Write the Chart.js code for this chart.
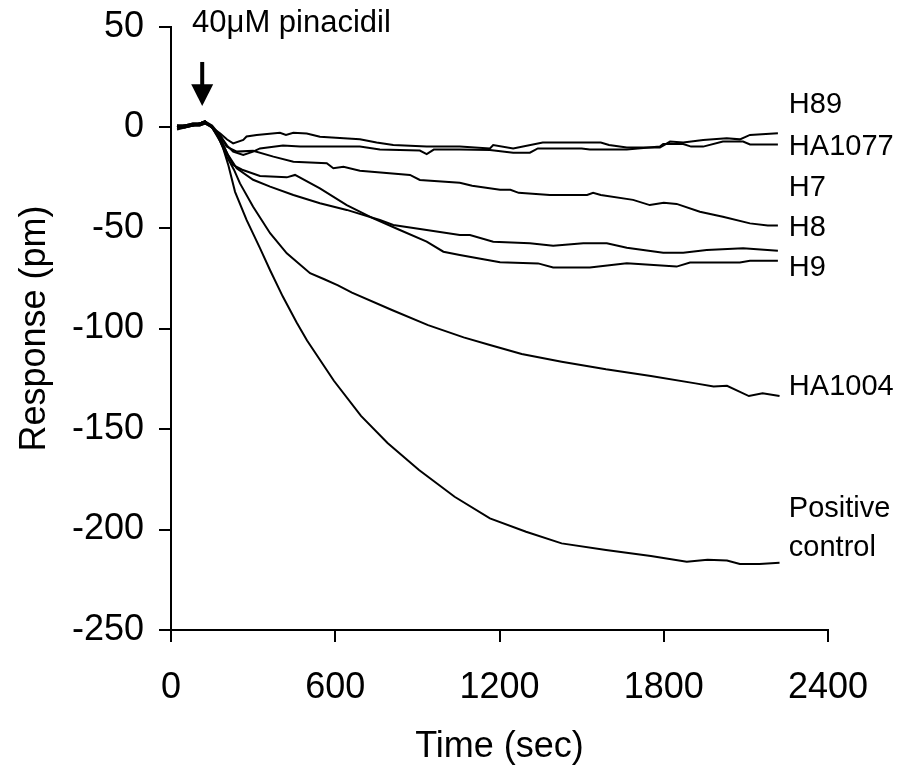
<!DOCTYPE html>
<html lang="en">
<head>
    <meta charset="UTF-8" />
    <title>Pinacidil response</title>
    <script src="https://cdn.jsdelivr.net/npm/chart.js"></script>
    <style>
        body { margin: 0; background: #fff; }
        canvas { display: block; }
    </style>
</head>
<body>
    <canvas id="chart" width="899" height="769"></canvas>

    <script>
        // Datos: tiempo (s) y respuesta (pm) por inhibidor
        const h89T = [22, 50, 80, 105, 124, 150, 180, 205, 227, 264, 276, 313, 398, 420, 447, 496, 544, 690, 751, 812, 934, 1055, 1165, 1177, 1250, 1358, 1570, 1600, 1665, 1786, 1823, 1871, 1944, 2030, 2078, 2115, 2217];
        const h89V = [0, 1, 1, 2, 3, 0, -3, -6, -7.9, -6.2, -4.5, -3.7, -2.6, -3.7, -2.6, -3, -4.6, -5.9, -7.5, -8.7, -9.5, -9.5, -10.4, -8.7, -10.4, -7.5, -7.5, -8.7, -10, -10, -7, -7.5, -6.2, -5.4, -5.9, -3.7, -2.9];

        const ha1077T = [22, 50, 80, 105, 124, 150, 180, 205, 227, 264, 300, 325, 409, 472, 690, 763, 909, 934, 960, 1055, 1165, 1250, 1311, 1340, 1500, 1530, 1665, 1786, 1798, 1871, 1900, 1944, 2016, 2090, 2115, 2217];
        const ha1077V = [-1, 0, 1, 1, 2, 0, -4, -9, -12, -13.7, -12, -10.4, -9, -9.5, -9.5, -10.9, -11.5, -13.2, -11, -10.9, -11.2, -12.5, -12.5, -10.4, -10.4, -11, -11, -9.5, -8.2, -8.2, -9.5, -9.5, -7, -7, -8.4, -8.4];

        const h7T = [22, 50, 80, 105, 124, 150, 180, 203, 240, 300, 374, 447, 569, 593, 630, 690, 873, 909, 1055, 1100, 1202, 1240, 1270, 1384, 1520, 1542, 1570, 1688, 1749, 1800, 1847, 1932, 2016, 2115, 2180, 2217];
        const h7V = [1, 1, 2, 2, 3, 1, -4, -9.5, -12, -11.6, -14.5, -17, -17.8, -20.3, -19.5, -21.5, -23.6, -26.1, -27.5, -29, -31, -31, -32.5, -33.6, -33.6, -32.5, -33.6, -36, -38.6, -37.5, -38, -41.9, -44.4, -47.7, -48.8, -48.8];

        const h8T = [22, 50, 80, 105, 124, 150, 180, 210, 240, 300, 362, 447, 544, 642, 763, 812, 934, 1055, 1092, 1177, 1311, 1396, 1506, 1592, 1665, 1798, 1871, 1957, 2090, 2217];
        const h8V = [0, 0, 1, 2, 3, 0, -6, -14, -20.3, -26, -29.4, -33.6, -37.7, -41, -46, -48.5, -51, -53.5, -53.5, -56.8, -57.6, -58.8, -57.6, -57.6, -59.8, -62.3, -62.3, -61, -60.1, -61.3];

        const h9T = [22, 50, 80, 105, 124, 150, 180, 205, 227, 260, 325, 423, 453, 544, 642, 739, 836, 934, 995, 1055, 1141, 1202, 1341, 1396, 1530, 1665, 1847, 1896, 2078, 2115, 2217];
        const h9V = [1, 0, 1, 1, 2, 0, -5, -13, -18.7, -21, -24.1, -24.8, -23.6, -30.3, -38.6, -45.2, -51, -56.8, -61.8, -63.4, -65.6, -67, -67.6, -69.6, -69.6, -67.6, -69.2, -67.2, -67.2, -66.3, -66.3];

        const ha1004T = [22, 50, 80, 105, 124, 150, 180, 204, 230, 252, 300, 362, 423, 508, 560, 610, 661, 807, 939, 1069, 1165, 1281, 1427, 1589, 1753, 1916, 1982, 2031, 2111, 2161, 2223];
        const ha1004V = [0, 1, 1, 2, 3, 0, -7, -14.5, -21, -27.8, -39.4, -52.6, -62.6, -72.5, -75.5, -78.5, -82.2, -90.8, -98.3, -104.4, -108.2, -112.7, -116.5, -120.3, -123.6, -127.3, -128.9, -128.5, -133.6, -132.2, -133.6];

        const posT = [22, 50, 80, 105, 124, 150, 170, 190, 210, 234, 276, 325, 362, 408, 459, 497, 595, 694, 791, 906, 1036, 1165, 1297, 1427, 1589, 1753, 1884, 1960, 2031, 2078, 2150, 2223];
        const posV = [1, 1, 2, 2, 3, 0, -4, -10, -19, -32, -46, -60, -71, -84, -97, -106, -126, -143.5, -157, -170.4, -183.7, -194.5, -201.1, -206.9, -210.2, -213.2, -216, -215, -215.4, -217.2, -217.2, -216.6];

        // Etiquetas a la derecha de cada curva
        const curveLabels = ['H89', 'HA1077', 'H7', 'H8', 'H9', 'HA1004', 'Positive', 'control'];
        const curveLabelY = [11, -9.5, -30, -50, -70, -129, -190, -209];
        const curveLabelT = 2257;

        // Momento de adición del fármaco
        const drugName = '40\u03bcM pinacidil';
        const drugT = 114;

        const FONT = '"Liberation Sans", Arial, sans-serif';

        function toXY(ts, vs) {
            return ts.map((t, i) => ({ x: t, y: vs[i] }));
        }

        const series = [
            toXY(h89T, h89V),
            toXY(ha1077T, ha1077V),
            toXY(h7T, h7V),
            toXY(h8T, h8V),
            toXY(h9T, h9V),
            toXY(ha1004T, ha1004V),
            toXY(posT, posV)
        ];

        // Plugin para el texto de las curvas y la flecha
        const notes = {
            id: 'notes',
            afterDraw(chart) {
                const { ctx, scales: { x, y } } = chart;
                ctx.save();
                ctx.fillStyle = '#000';
                ctx.textBaseline = 'middle';
                ctx.textAlign = 'left';
                ctx.font = '29px ' + FONT;
                curveLabels.forEach((txt, i) => {
                    ctx.fillText(txt, x.getPixelForValue(curveLabelT), y.getPixelForValue(curveLabelY[i]));
                });

                ctx.font = '31px ' + FONT;
                ctx.fillText(drugName, x.getPixelForValue(77), y.getPixelForValue(52));

                // flecha
                const ax = x.getPixelForValue(drugT);
                const top = y.getPixelForValue(32.6);
                const base = y.getPixelForValue(21.5);
                const tip = y.getPixelForValue(10.7);
                ctx.fillRect(ax - 2, top, 4, base - top + 1);
                ctx.beginPath();
                ctx.moveTo(ax - 11, base);
                ctx.lineTo(ax + 11, base);
                ctx.lineTo(ax, tip);
                ctx.closePath();
                ctx.fill();
                ctx.restore();
            }
        };

        const ctx = document.getElementById('chart').getContext('2d');
        const chart = new Chart(ctx, {
            type: 'line',
            data: {
                datasets: series.map(d => ({
                    data: d,
                    borderColor: '#000',
                    borderWidth: 2,
                    pointRadius: 0,
                    fill: false,
                    tension: 0
                }))
            },
            options: {
                responsive: false,
                animation: false,
                devicePixelRatio: 1,
                layout: { padding: { top: 27, right: 71, left: 0, bottom: 0 } },
                plugins: {
                    legend: { display: false },
                    tooltip: { enabled: false }
                },
                scales: {
                    x: {
                        type: 'linear',
                        min: 0,
                        max: 2400,
                        ticks: { stepSize: 600, color: '#000', padding: 24, maxRotation: 0, font: { size: 36, family: FONT }, callback: v => String(v) },
                        grid: { drawOnChartArea: false, color: '#000', lineWidth: 2, tickLength: 12 },
                        border: { color: '#000', width: 2 },
                        title: { display: true, text: 'Time (sec)', color: '#000', padding: 0, font: { size: 36, family: FONT } },
                        afterFit: s => { s.height = 139; }
                    },
                    y: {
                        min: -250,
                        max: 50,
                        ticks: { stepSize: 50, color: '#000', padding: 15, font: { size: 36, family: FONT } },
                        grid: { drawOnChartArea: false, color: '#000', lineWidth: 2, tickLength: 12 },
                        border: { color: '#000', width: 2 },
                        title: { display: true, text: 'Response (pm)', color: '#000', padding: { top: 13, bottom: 0 }, font: { size: 36, family: FONT } },
                        afterFit: s => { s.width = 171; s.paddingTop = 0; s.paddingBottom = 0; }
                    }
                }
            },
            plugins: [notes]
        });
    </script>
</body>
</html>
